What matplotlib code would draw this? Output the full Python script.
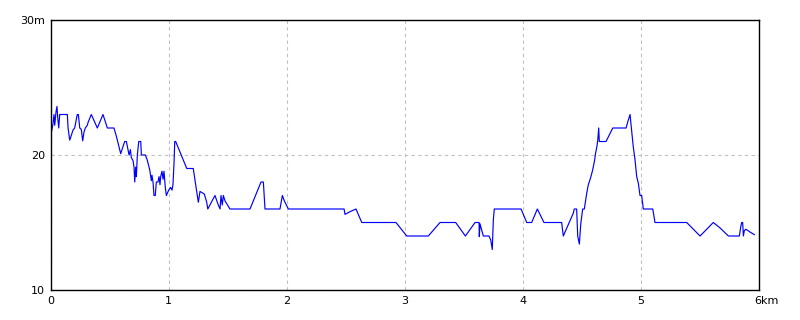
import matplotlib
matplotlib.use("Agg")
import matplotlib.pyplot as plt
import matplotlib.transforms as mtransforms

## Data (distance in km, elevation in m)
dist_km = [
    0.000, 0.002, 0.019, 0.028, 0.034, 0.045, 0.053, 0.059, 0.068, 0.076,
    0.141, 0.147, 0.161, 0.169, 0.189, 0.203, 0.225, 0.234, 0.246, 0.259,
    0.271, 0.282, 0.293, 0.310, 0.316, 0.344, 0.395, 0.443, 0.480, 0.536,
    0.556, 0.576, 0.593, 0.604, 0.627, 0.641, 0.655, 0.664, 0.675, 0.683,
    0.697, 0.706, 0.712, 0.720, 0.726, 0.734, 0.746, 0.763, 0.768, 0.802,
    0.819, 0.839, 0.853, 0.858, 0.867, 0.875, 0.886, 0.895, 0.909, 0.918,
    0.926, 0.932, 0.943, 0.952, 0.960, 0.971, 0.980, 1.000, 1.017, 1.028,
    1.036, 1.045, 1.051, 1.059, 1.153, 1.208, 1.223, 1.237, 1.246, 1.251,
    1.265, 1.285, 1.302, 1.322, 1.331, 1.392, 1.420, 1.435, 1.443, 1.454,
    1.463, 1.477, 1.519, 1.689, 1.782, 1.802, 1.816, 1.943, 1.963, 1.980,
    2.014, 2.486, 2.494, 2.536, 2.587, 2.636, 2.926, 3.017, 3.200, 3.299,
    3.432, 3.514, 3.596, 3.630, 3.632, 3.638, 3.666, 3.714, 3.729, 3.742,
    3.751, 3.759, 3.986, 4.034, 4.076, 4.124, 4.180, 4.330, 4.344, 4.429,
    4.437, 4.457, 4.466, 4.480, 4.492, 4.508, 4.522, 4.543, 4.556, 4.575,
    4.593, 4.609, 4.617, 4.630, 4.636, 4.644, 4.649, 4.706, 4.763, 4.876,
    4.895, 4.910, 4.915, 4.924, 4.937, 4.951, 4.966, 4.980, 4.994, 5.008,
    5.022, 5.102, 5.121, 5.390, 5.503, 5.615, 5.672, 5.743, 5.836, 5.848,
    5.856, 5.864, 5.870, 5.878, 5.892, 5.925, 5.963,
]
elev_m = [
    21.7, 21.5, 22.3, 23.0, 22.2, 23.2, 23.6, 22.8, 22.0, 23.0,
    23.0, 22.0, 21.1, 21.3, 21.85, 22.0, 23.0, 23.0, 22.0, 21.9,
    21.05, 21.7, 22.0, 22.2, 22.4, 23.0, 22.0, 23.0, 22.0, 22.0,
    21.4, 20.7, 20.1, 20.4, 21.0, 21.0, 20.4, 20.0, 20.4, 19.8,
    19.6, 19.1, 18.0, 19.1, 18.4, 20.0, 21.0, 21.0, 20.0, 20.0,
    19.6, 18.9, 18.1, 18.5, 18.0, 17.0, 17.0, 18.0, 18.0, 18.4,
    17.8, 18.4, 18.8, 18.2, 18.8, 17.6, 17.0, 17.4, 17.6, 17.4,
    17.8, 19.4, 21.0, 21.0, 19.0, 19.0, 18.1, 17.3, 16.8, 16.5,
    17.3, 17.2, 17.1, 16.5, 16.0, 17.0, 16.3, 16.0, 17.0, 16.3,
    17.0, 16.6, 16.0, 16.0, 18.0, 18.0, 16.0, 16.0, 17.0, 16.6,
    16.0, 16.0, 15.6, 15.8, 16.0, 15.0, 15.0, 14.0, 14.0, 15.0,
    15.0, 14.0, 15.0, 15.0, 13.95, 14.9, 14.0, 14.0, 13.7, 13.0,
    15.2, 16.0, 16.0, 15.0, 15.0, 16.0, 15.0, 15.0, 14.0, 15.7,
    16.0, 16.0, 14.0, 13.4, 14.9, 16.0, 16.0, 17.2, 17.8, 18.3,
    18.9, 19.6, 20.1, 20.7, 21.1, 22.0, 21.0, 21.0, 22.0, 22.0,
    22.6, 23.0, 22.5, 21.7, 20.6, 19.7, 18.4, 17.9, 17.0, 17.0,
    16.0, 16.0, 15.0, 15.0, 14.0, 15.0, 14.6, 14.0, 14.0, 14.7,
    15.0, 15.0, 14.0, 14.4, 14.5, 14.3, 14.1,
]
x_ticks = [0, 1, 2, 3, 4, 5, 6]
x_labels = ["0", "1", "2", "3", "4", "5", "6km"]
y_ticks = [10, 20, 30]
y_labels = ["10", "20", "30m"]

## Plot
fig = plt.figure(figsize=(8, 3.2), dpi=100)
ax = fig.add_axes([0.0634, 0.09375, 0.8850, 0.84375])
ax.plot(dist_km, elev_m, color="#0000ff", linewidth=0.85)

ax.set_xlim(0, 6)
ax.set_ylim(10, 30)
ax.set_xticks(x_ticks)
ax.set_xticklabels(x_labels)
ax.set_yticks(y_ticks)
ax.set_yticklabels(y_labels)
ax.tick_params(length=0, labelsize=8, pad=4)
ax.grid(True, color="#c0c0c0", linestyle=(0, (3, 3)), linewidth=0.8)
for sp in ax.spines.values():
    sp.set_color("black")
    sp.set_linewidth(1.0)

# "6km" is drawn with the 6 on the tick, not centred
lab = ax.get_xticklabels()[-1]
lab.set_horizontalalignment("left")
lab.set_transform(lab.get_transform() + mtransforms.ScaledTranslation(-3 / 72, 0, fig.dpi_scale_trans))

fig.savefig("out.png", dpi=100)
